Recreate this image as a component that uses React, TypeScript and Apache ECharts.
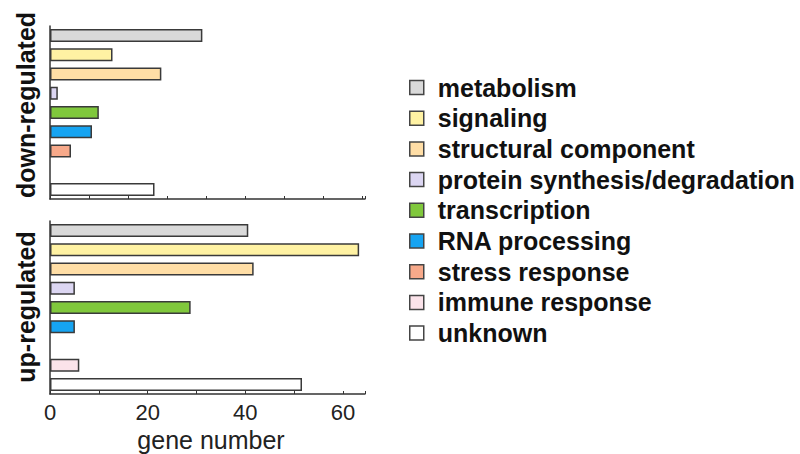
import React, { useEffect, useRef } from "react";
import * as echarts from "echarts";

const categories = [
  "metabolism",
  "signaling",
  "structural component",
  "protein synthesis/degradation",
  "transcription",
  "RNA processing",
  "stress response",
  "immune response",
  "unknown",
];
const colors = ["#d9d9d9", "#fff2a3", "#ffdea6", "#dcd6f2", "#80c83c", "#16a4f2", "#f7a98a", "#fbe3ea", "#ffffff"];
const downValues = [31.2, 12.8, 22.8, 1.6, 10, 8.6, 4.3, 0, 21.4];
const upValues = [40.6, 63.3, 41.7, 5.1, 28.8, 5.1, 0, 6, 51.6];
const panelLabels = ["down-regulated", "up-regulated"];
const xAxisTitle = "gene number";

const FONT = "'Liberation Sans', Arial, sans-serif";

export default function App() {
  const ref = useRef<HTMLDivElement>(null);
  useEffect(() => {
    document.body.style.margin = "0";
    const chart = echarts.init(ref.current!, null, { renderer: "svg" });
    const panels = [downValues, upValues];
    const series: any[] = [];
    panels.forEach((vals, p) => {
      categories.forEach((c, i) => {
        series.push({
          type: "bar",
          name: c,
          xAxisIndex: p,
          yAxisIndex: p,
          stack: "p" + p,
          barWidth: 13,
          itemStyle: { color: colors[i], borderColor: "#3a3a3a", borderWidth: 1.5 },
          data: categories.map((_, j) => (j === i && vals[i] > 0 ? vals[i] : "-")),
        });
      });
    });
    const grids = [
      { left: 50, width: 315, top: 26, height: 173 },
      { left: 50, width: 315, top: 221, height: 173 },
    ];
    chart.setOption({
      animation: false,
      grid: grids,
      xAxis: [0, 1].map((p) => ({
        type: "value",
        gridIndex: p,
        min: 0,
        max: 64.5,
        interval: p === 0 ? 8 : 10,
        splitLine: { show: false },
        axisLine: { show: true, lineStyle: { color: "#333", width: 1.5 } },
        axisTick: { show: true, inside: true, length: 3, lineStyle: { color: "#333" } },
        axisLabel: {
          show: p === 1,
          fontFamily: FONT,
          fontSize: 22,
          color: "#222",
          margin: 7,
          formatter: (v: number) => (v % 20 === 0 ? String(v) : ""),
        },
      })),
      yAxis: [0, 1].map((p) => ({
        type: "category",
        gridIndex: p,
        data: categories,
        inverse: true,
        axisLine: { show: true, lineStyle: { color: "#333", width: 1.5 } },
        axisTick: { show: false },
        axisLabel: { show: false },
      })),
      legend: {
        orient: "vertical",
        left: 404,
        top: 70,
        data: categories,
        icon: "rect",
        itemWidth: 14,
        itemHeight: 14,
        itemGap: 5.7,
        itemStyle: { borderColor: "#444", borderWidth: 1.5 },
        selectedMode: false,
        textStyle: { fontFamily: FONT, fontSize: 25, fontWeight: "bold", color: "#111", lineHeight: 25, padding: [0, 0, 0, 9] },
      },
      graphic: [
        {
          type: "text",
          x: 26,
          y: 105,
          rotation: Math.PI / 2,
          style: { text: panelLabels[0], fontFamily: FONT, fontSize: 25, fontWeight: "bold", fill: "#111", align: "center", verticalAlign: "middle" },
        },
        {
          type: "text",
          x: 26,
          y: 307,
          rotation: Math.PI / 2,
          style: { text: panelLabels[1], fontFamily: FONT, fontSize: 25, fontWeight: "bold", fill: "#111", align: "center", verticalAlign: "middle" },
        },
        {
          type: "text",
          x: 211,
          y: 440,
          style: { text: xAxisTitle, fontFamily: FONT, fontSize: 25, fill: "#222", align: "center", verticalAlign: "middle" },
        },
      ],
      series,
    });
    return () => chart.dispose();
  }, []);
  return <div ref={ref} style={{ width: 800, height: 454 }} />;
}
